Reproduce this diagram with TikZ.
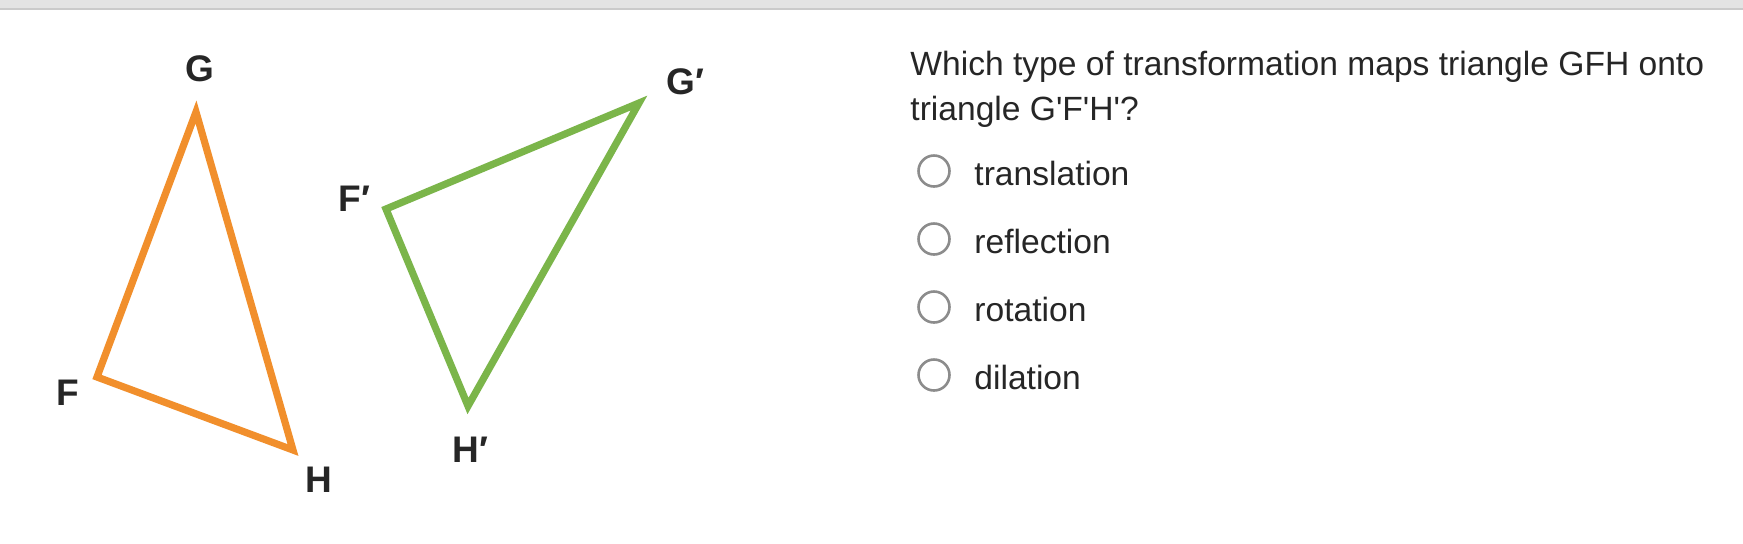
\documentclass[tikz,border=0pt]{standalone}
\usepackage{fontspec}
\setmainfont{Liberation Sans}
\newfontfamily\qfont{Liberation Sans}
\definecolor{triorange}{HTML}{F18F2C}
\definecolor{trigreen}{HTML}{7BB54A}
\definecolor{ringgray}{HTML}{8C8C8C}
\definecolor{bargray}{HTML}{E3E3E3}
\definecolor{barline}{HTML}{CACACA}
\definecolor{textgray}{HTML}{262626}
\tikzset{
  vlabel/.style={anchor=base west,inner sep=0pt,text=textgray,font=\fontsize{18.5}{20}\selectfont\bfseries},
  qtext/.style={anchor=base west,inner sep=0pt,text=textgray,font=\qfont\fontsize{16.8}{20}\selectfont},
  ring/.style={draw=ringgray,circle,line width=1.3pt,inner sep=0pt,minimum size=15.5pt},
  side/.style={line width=3.6pt,line join=miter}
}
\begin{document}
\begin{tikzpicture}[x=0.5pt,y=-0.5pt]
\useasboundingbox (0,0) rectangle (1743,543);
\fill[white] (0,0) rectangle (1743,543);
\fill[bargray] (0,0) rectangle (1743,8);
\fill[barline] (0,8) rectangle (1743,10);
% triangle GFH
\coordinate (G) at (196,112);
\coordinate (F) at (97,377);
\coordinate (H) at (293,450);
\draw[side,triorange] (G) -- (F) -- (H) -- cycle;
\node[vlabel] (lG) at (185,81) {G};
\node[vlabel] (lF) at (56,405) {F};
\node[vlabel] (lH) at (305,492) {H};
% triangle G'F'H'
\coordinate (Gp) at (639,103);
\coordinate (Fp) at (386,209);
\coordinate (Hp) at (468,406);
\draw[side,trigreen] (Gp) -- (Fp) -- (Hp) -- cycle;
\node[vlabel] (lGp) at (666,94) {G\symbol{"2032}};
\node[vlabel] (lFp) at (338,211) {F\symbol{"2032}};
\node[vlabel] (lHp) at (452,462) {H\symbol{"2032}};
% question
\node[qtext] (q1) at (910,75) {Which type of transformation maps triangle GFH onto};
\node[qtext] (q2) at (910,120) {triangle G'F'H'?};
% choices
\node[ring] (c1) at (934,171) {};
\node[ring] (c2) at (934,239) {};
\node[ring] (c3) at (934,307) {};
\node[ring] (c4) at (934,375) {};
\node[qtext] (a1) at (974,185) {translation};
\node[qtext] (a2) at (974,253) {reflection};
\node[qtext] (a3) at (974,321) {rotation};
\node[qtext] (a4) at (974,389) {dilation};
\end{tikzpicture}
\end{document}
